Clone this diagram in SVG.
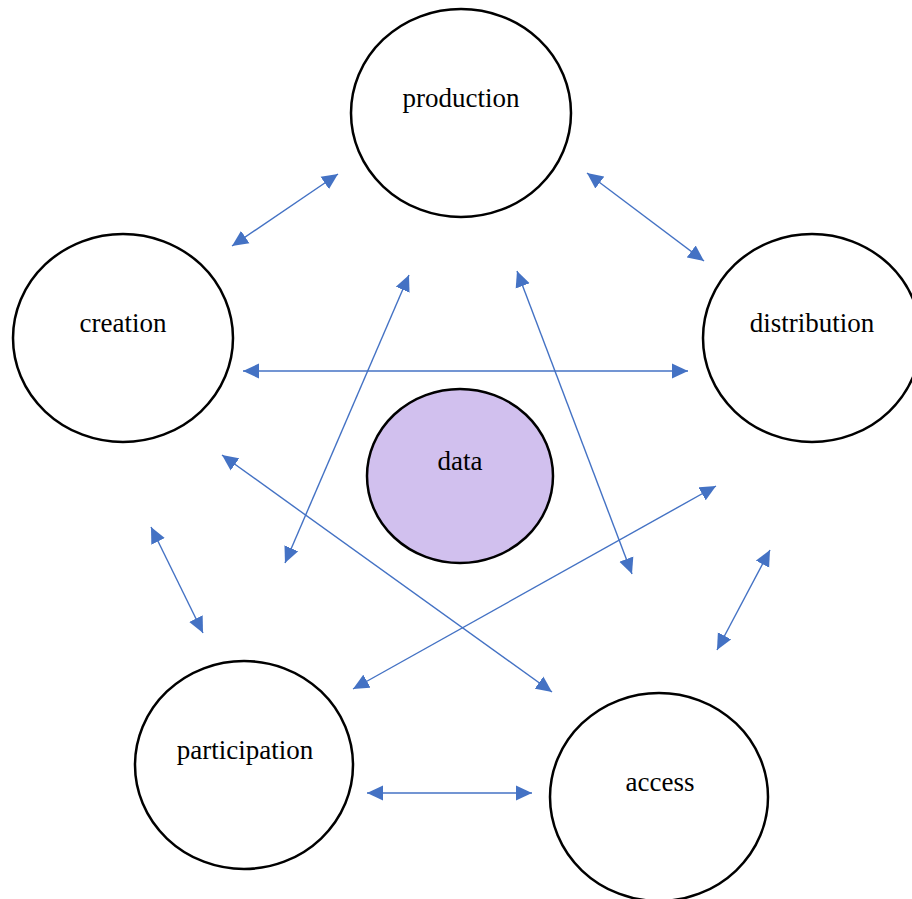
<svg xmlns="http://www.w3.org/2000/svg" width="912" height="899" viewBox="0 0 912 899">
<defs>
<style>
.node{fill:#fff;stroke:#000;stroke-width:2.5}
.data{fill:#D1C0EE;stroke:#000;stroke-width:2.5}
.lbl{font-family:"Liberation Serif","Times New Roman",serif;font-size:27px;fill:#000;text-anchor:middle}
.c line{stroke:#4472C4;stroke-width:1.4;marker-start:url(#ah);marker-end:url(#ah)}
</style>
<marker id="ah" markerUnits="userSpaceOnUse" markerWidth="16" markerHeight="16" viewBox="0 0 15 14" refX="15" refY="7" orient="auto-start-reverse">
<path d="M0,0 L15,7 L0,14 Z" fill="#4472C4"/>
</marker>
</defs>
<rect width="912" height="899" fill="#fff"/>
<g id="production"><ellipse class="node" cx="461" cy="113" rx="110" ry="104"/><text class="lbl" x="461" y="107">production</text></g>
<g id="creation"><ellipse class="node" cx="123" cy="338" rx="110" ry="104"/><text class="lbl" x="123" y="332">creation</text></g>
<g id="distribution"><ellipse class="node" cx="812" cy="338" rx="109" ry="104"/><text class="lbl" x="812" y="332">distribution</text></g>
<g id="data"><ellipse class="data" cx="460" cy="476" rx="93" ry="87"/><text class="lbl" x="460" y="470">data</text></g>
<g id="participation"><ellipse class="node" cx="244" cy="765" rx="109" ry="104"/><text class="lbl" x="245" y="759">participation</text></g>
<g id="access"><ellipse class="node" cx="659" cy="797" rx="109" ry="104"/><text class="lbl" x="660" y="791">access</text></g>
<g id="connectors" class="c">
<line x1="232" y1="246" x2="338" y2="174"/>
<line x1="587" y1="173" x2="704" y2="261"/>
<line x1="243" y1="371" x2="688" y2="371"/>
<line x1="409" y1="275" x2="285" y2="563"/>
<line x1="517" y1="271" x2="632" y2="574"/>
<line x1="222" y1="455" x2="552" y2="692"/>
<line x1="716" y1="486" x2="353" y2="689"/>
<line x1="151" y1="527" x2="203" y2="633"/>
<line x1="770" y1="550" x2="717" y2="650"/>
<line x1="367" y1="793" x2="532" y2="793"/>
</g>
</svg>
